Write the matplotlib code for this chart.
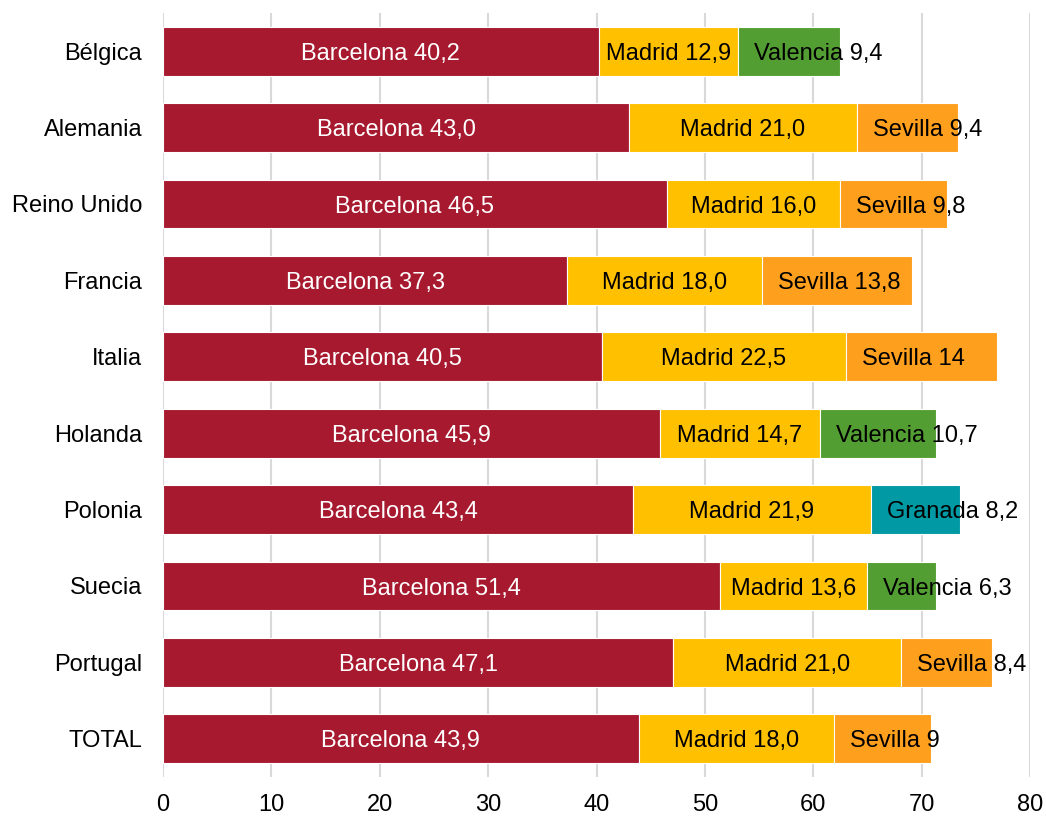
import numpy as np
import matplotlib.pyplot as plt

plt.rcParams['font.family'] = ['Liberation Sans', 'DejaVu Sans']

countries = ['Bélgica', 'Alemania', 'Reino Unido', 'Francia', 'Italia',
             'Holanda', 'Polonia', 'Suecia', 'Portugal', 'TOTAL']
barcelona = [40.2, 43.0, 46.5, 37.3, 40.5, 45.9, 43.4, 51.4, 47.1, 43.9]
madrid = [12.9, 21.0, 16.0, 18.0, 22.5, 14.7, 21.9, 13.6, 21.0, 18.0]
third_city = ['Valencia', 'Sevilla', 'Sevilla', 'Sevilla', 'Sevilla',
              'Valencia', 'Granada', 'Valencia', 'Sevilla', 'Sevilla']
third_value = [9.4, 9.4, 9.8, 13.8, 14, 10.7, 8.2, 6.3, 8.4, 9]
third_text = ['9,4', '9,4', '9,8', '13,8', '14', '10,7', '8,2', '6,3', '8,4', '9']

city_colors = {'Barcelona': '#A6192E', 'Madrid': '#FFC000', 'Valencia': '#539E32',
               'Sevilla': '#FF9F1E', 'Granada': '#0099A4'}

def fmt(v):
    return f'{v:.1f}'.replace('.', ',')

fig = plt.figure(figsize=(10.46, 8.16), dpi=100)
ax = fig.add_axes([163 / 1046, 1 - 777 / 816, (1030 - 163) / 1046, (777 - 13) / 816])

ys = np.arange(len(countries))
h = 0.64
bcn = np.array(barcelona)
mad = np.array(madrid)
thr = np.array(third_value)

ax.barh(ys, bcn, height=h, color=city_colors['Barcelona'], edgecolor='white', linewidth=0.8, zorder=2)
ax.barh(ys, mad, left=bcn, height=h, color=city_colors['Madrid'], edgecolor='white', linewidth=0.8, zorder=2)
ax.barh(ys, thr, left=bcn + mad, height=h, color=[city_colors[c] for c in third_city],
        edgecolor='white', linewidth=0.8, zorder=2)

fs = 17
for i in range(len(countries)):
    ax.text(bcn[i] / 2, ys[i], 'Barcelona ' + fmt(bcn[i]), ha='center', va='center_baseline',
            color='white', fontsize=fs, zorder=3)
    ax.text(bcn[i] + mad[i] / 2, ys[i], 'Madrid ' + fmt(mad[i]), ha='center', va='center_baseline',
            color='black', fontsize=fs, zorder=3)
    ax.annotate(third_city[i] + ' ' + third_text[i], xy=(bcn[i] + mad[i], ys[i]),
                xytext=(16, 0), textcoords='offset pixels', ha='left', va='center_baseline',
                color='black', fontsize=fs, zorder=3)

ax.set_xlim(0, 80)
ax.set_ylim(len(countries) - 0.5, -0.5)
ax.set_xticks(np.arange(0, 81, 10))
ax.set_yticks(ys)
ax.set_yticklabels(countries)
ax.tick_params(axis='both', length=0, labelsize=fs)
ax.tick_params(axis='y', pad=15)
ax.tick_params(axis='x', pad=12)
ax.grid(axis='x', color='#D9D9D9', linewidth=1.5, zorder=0)
for s in ax.spines.values():
    s.set_visible(False)

fig.savefig('out.png', dpi=100)
